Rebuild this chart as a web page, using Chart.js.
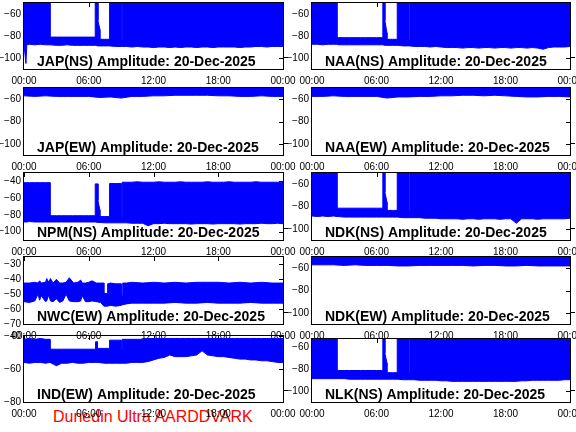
<!DOCTYPE html>
<html>
<head>
<meta charset="utf-8">
<script src="https://cdn.jsdelivr.net/npm/chart.js@4/dist/chart.umd.min.js"></script>
<style>
  body { margin: 0; background: #fff; width: 576px; height: 432px; position: relative; overflow: hidden; }
  canvas { position: absolute; }
  #footer { position: absolute; left: 53px; top: 409px; font: 16px "Liberation Sans", Arial, sans-serif; line-height: 16px; color: #ff0000; white-space: nowrap; }
</style>
</head>
<body>
<div id="footer">Dunedin Ultra AARDDVARK</div>
<script>
// x axis (hours of the day)
const timeTicks = [0, 6, 12, 18, 24];
const timeLabels = ['00:00', '06:00', '12:00', '18:00', '00:00'];

// y tick sets
const ticksStd = [-100, -80, -60];
const ticksNpm = [-100, -80, -60, -40];
const ticksNwc = [-70, -60, -50, -40, -30];
const ticksInd = [-80, -60, -40];

// NS time grids (left column / right column)
const leftNsHours = [0, 0.18, 0.26, 0.5, 1, 1.5, 2, 2.41, 2.41, 3, 3.5, 4, 4.5, 5, 5.5, 6, 6.6, 6.6, 6.85, 6.85, 7.03, 7.03, 7.5, 7.93, 7.93, 8.5, 9, 9, 9.1, 9.1, 9.5, 10, 10.5, 11, 11.5, 12, 12.5, 13, 13.5, 14, 14.5, 15, 15.5, 16, 16.5, 17, 17.5, 18, 18.5, 19, 19.5, 20, 20.5, 21, 21.5, 22, 22.5, 23, 23.5, 24];
const rightNsHours = [0, 0.5, 1, 1.5, 2, 2.32, 2.32, 2.5, 3, 3.5, 4, 4.5, 5, 5.5, 6, 6.59, 6.59, 6.78, 6.78, 6.97, 6.97, 7.5, 7.93, 7.93, 8.5, 9, 9, 9.1, 9.1, 9.5, 10, 10.5, 11, 11.5, 12, 12.5, 13, 13.5, 14, 14.5, 15, 15.5, 16, 16.5, 17, 17.5, 18, 18.5, 19, 19.5, 20, 20.5, 21, 21.5, 22, 22.5, 23, 23.5, 24];
const ewHours = [0, 1, 2, 3, 4, 5, 6, 7, 8, 9, 10, 11, 12, 13, 14, 15, 16, 17, 18, 19, 20, 21, 22, 23, 24];

// JAP(NS)
const japNsUpper = [-50, -50, -50, -50, -50, -50, -50, -50, -81, -81, -81, -81, -81, -81, -81, -81, -81, -50, -50, -66, -74, -83, -83, -83, -50, -50, -50, -83, -83, -50,
  -50, -50, -50, -50, -50, -50, -50, -50, -50, -50, -50, -50, -50, -50, -50, -50, -50, -50, -50, -50, -50, -50, -50, -50, -50, -50, -50, -50, -50, -50];
const japNsLower = [-88, -105, -88, -87.5, -88, -87.5, -88, -88, -88, -88.5, -88.5, -88, -88.5, -88.5, -88.5, -88.5, -88.5, -88.5, -89, -89,
  -89, -89, -89, -89, -89, -89.5, -89.5, -89.5, -89.5, -89.5, -89.5, -90, -89.5, -90, -90, -90.5, -90, -90, -90.5, -90,
  -90.5, -90, -90, -90.5, -90, -90, -90.5, -90, -90, -90, -90, -90.5, -90, -90, -89.5, -89.5, -90, -89.5, -89.5, -89.5];

// NPM(NS)
const npmNsUpper = [-41.5, -41.5, -41.5, -41.5, -41.5, -41.5, -41.5, -41.5, -81, -81, -81, -81, -81, -81, -81, -81, -81, -43, -43, -63, -74, -82, -82, -82, -42.5, -42.5, -42.5, -82, -82, -41,
  -41, -41, -40.5, -41, -41, -41, -40.5, -41, -41, -41, -40.5, -41, -41, -41, -41, -40.5, -41, -41, -41, -40.5, -41, -41, -41, -41, -40.5, -41, -41, -41, -41, -41];
const npmNsLower = [-88.5, -88.5, -88.5, -88, -88.5, -88.5, -88.5, -88.5, -88.5, -88.5, -88.5, -88.5, -88.5, -88.5, -88.5, -88.5, -88.5, -88.5, -89, -89,
  -89, -89, -89.5, -89.5, -89.5, -89.5, -89.5, -89.5, -89.5, -89.5, -89.5, -90, -90, -90, -93, -90.5, -90.5, -90, -90.5, -90.5,
  -90.5, -90.5, -91, -90.5, -90.5, -90.5, -91, -90.5, -90.5, -90.5, -90.5, -91, -90.5, -90.5, -90.5, -90, -90.5, -90.5, -90, -90.5];

// NAA(NS)
const naaNsUpper = [-50, -50, -50, -50, -50, -50, -81.5, -81.5, -81.5, -81.5, -81.5, -81.5, -81.5, -81.5, -81.5, -81.5, -50, -50, -66, -77, -83, -83, -83, -50, -50, -50, -83, -83, -50,
  -50, -50, -50, -50, -50, -50, -50, -50, -50, -50, -50, -50, -50, -50, -50, -50, -50, -50, -50, -50, -50, -50, -50, -50, -50, -50, -50, -50, -50, -50];
const naaNsLower = [-87.5, -87.5, -88, -87.5, -87.5, -87.5, -87.5, -88, -88, -88, -88, -88, -88, -88, -88, -88, -88, -88.5, -88.5, -88.5,
  -88.5, -88.5, -88.5, -88.5, -89, -89, -89, -89, -89, -89.5, -89.5, -89.5, -90, -89.5, -90, -90.5, -90.5, -90.5, -91, -90.5,
  -90.5, -91, -90.5, -90.5, -91, -90.5, -90.5, -91, -90.5, -90.5, -91, -90.5, -91, -92, -90.5, -90, -90, -90, -89.5];

// NDK(NS)
const ndkNsUpper = [-50, -50, -50, -50, -50, -50, -81.5, -81.5, -81.5, -81.5, -81.5, -81.5, -81.5, -81.5, -81.5, -81.5, -50, -50, -67, -76, -83.5, -83.5, -83.5, -50, -50, -50, -83.5, -83.5, -50,
  -50, -50, -50, -50, -50, -50, -50, -50, -50, -50, -50, -50, -50, -50, -50, -50, -50, -50, -50, -50, -50, -50, -50, -50, -50, -50, -50, -50, -50, -50];
const ndkNsLower = [-88.5, -89, -88.5, -89, -88.5, -89, -89, -89, -89.5, -89.5, -89.5, -89.5, -89.5, -89.5, -89.5, -89.5, -89.5, -89.5, -89.5, -89.5,
  -89.5, -89.5, -89.5, -89.5, -90, -90, -90, -90, -90, -90, -90, -90.5, -90.5, -90.5, -91, -91, -91, -91, -91.5, -91,
  -91, -91.5, -91, -91, -91, -91.5, -91, -91, -95, -91, -91, -91, -91.5, -91, -91, -91, -91, -91, -90.5];

// NLK(NS)
const nlkNsUpper = [-50, -50, -50, -50, -50, -50, -81, -81, -81, -81, -81, -81, -81, -81, -81, -81, -50, -50, -65, -74, -83, -83, -83, -50, -50, -50, -83, -83, -50,
  -50, -50, -50, -50, -50, -50, -50, -50, -50, -50, -50, -50, -50, -50, -50, -50, -50, -50, -50, -50, -50, -50, -50, -50, -50, -50, -50, -50, -50, -50];
const nlkNsLower = [-88.5, -88.5, -88.5, -88.5, -88.5, -88.5, -88.5, -88.5, -88.5, -89, -89, -89, -89, -89, -89, -89, -89, -89, -89, -89,
  -89, -89, -89, -89, -89.5, -89.5, -89.5, -89.5, -89.5, -89.5, -90, -90, -90, -90, -90.5, -90.5, -91, -91, -91, -91,
  -91, -91, -91, -91, -91, -91, -91, -91, -91, -90.5, -90.5, -90, -90, -90, -90, -90, -90, -89.5, -89.5];

// EW lower edges (upper edge is above the plot top)
const japEwLower = [-57, -57.5, -57, -57.5, -57.5, -57.5, -57.5, -58.5, -58, -59, -57.5, -57.5, -57, -57, -56.5, -56.5, -56.5, -56.5, -57, -57, -57.5, -57.5, -57, -57.5, -57.5];
const naaEwLower = [-57.5, -57.5, -57, -57.5, -57.5, -57.5, -57.5, -59, -58, -58, -57.5, -57.5, -57, -57, -56.5, -56.5, -57, -56.5, -57, -57.5, -58, -58, -57.5, -57.5, -58];
const ndkEwLower = [-57, -57, -57, -57.5, -57, -57.5, -57.5, -57.5, -58, -58, -57.5, -57.5, -57.5, -57.5, -57.5, -58, -57.5, -57.5, -58, -58, -57.5, -58, -58, -58, -58];

// NWC(EW)
const nwcHours = [0, 0.5, 1, 1.3, 1.45, 1.6, 2, 2.1, 2.3, 2.45, 2.7, 3, 3.3, 3.6, 3.9, 4.2, 4.6, 5, 5.25, 5.4, 5.7, 6, 6.3, 6.7, 7.1, 7.4, 7.4, 7.75, 7.75, 8, 8.5, 9, 9, 9.15, 9.15, 9.5, 10, 11, 12, 13, 14, 15, 16, 17, 18, 19, 20, 21, 22, 23, 24];
const nwcUpper = [-42.5, -42.5, -42, -42.5, -41, -42.5, -42, -39.5, -42, -39.5, -42.5, -40, -42.5, -42.5, -42, -39, -42.5, -42, -40.5, -42.5,
  -42.5, -42, -41, -42.5, -42.5, -42.5, -49.5, -49.5, -43, -42.5, -43, -43, -51, -51, -42.5, -42.5, -42, -42.5, -42, -42.5,
  -42, -42.5, -42, -42, -42, -42.5, -42, -42.5, -42, -42.5, -42.5];
const nwcLower = [-55, -55.5, -54.5, -50, -54, -51, -55, -54.5, -50.5, -54.5, -55, -53, -55.5, -54.5, -50, -54.5, -55, -55, -54.5, -51,
  -55, -55, -54.5, -55, -55.5, -58, -58, -58, -58, -57.5, -58, -57.5, -57.5, -57, -57, -56.5, -56, -56, -56, -56,
  -55.5, -56, -56, -55.5, -56, -56, -56, -55.5, -56, -56, -56];

// IND(EW)
const indHours = [0, 0.5, 1, 1.5, 2, 2.41, 2.41, 3, 3.5, 4, 4.5, 5, 5.5, 6, 6.63, 6.63, 6.8, 6.8, 7.5, 7.93, 7.93, 8.5, 9, 9, 9.1, 9.1, 9.5, 10, 10.5, 11, 11.5, 12, 12.5, 13, 13.5, 14, 14.5, 15, 15.5, 16, 16.5, 17, 17.5, 18, 18.5, 19, 19.5, 20, 20.5, 21, 21.5, 22, 22.5, 23, 23.5, 24];
const indUpper = [-42, -41.5, -42, -41.5, -42, -42, -48, -48, -48, -48, -48, -48, -48, -48, -48, -43.5, -43.5, -47.5, -47.5, -47.5, -42.5, -42.5, -42.5, -48.5, -48.5, -42,
  -42, -42, -42, -42, -41.5, -41.5, -41.5, -41.5, -41.5, -41.5, -41.5, -41.5, -41.5, -41.5, -41.5, -41.5, -41.5, -41.5, -41.5, -41.5, -41.5, -41.5, -41.5, -41.5, -41.5, -41.5, -41.5, -41.5, -41.5, -41.5];
const indLower = [-56, -56.5, -56, -56, -56.5, -56, -56, -58, -56.5, -56.5, -56, -56.5, -56.5, -56, -56, -56, -56, -56, -56.5, -56.5,
  -56.5, -56.5, -56.5, -56.5, -56.5, -56.5, -56.5, -56, -56, -56, -55.5, -54.5, -53.5, -53, -51.5, -52.5, -52.5, -52.5, -52, -51.5,
  -49, -51.5, -52, -52.5, -52.5, -53, -53.5, -54, -54, -54.5, -54.5, -55, -55, -55.5, -56, -56];

const BLUE = '#0000ff';
const FONT = '"Liberation Sans", Arial, sans-serif';

const panels = [
    { label: 'JAP(NS) Amplitude: 20-Dec-2025', col: 0, top: 3, bottom: 69, hours: leftNsHours, upper: japNsUpper, lower: japNsLower, yMin: -110, yMax: -50, yTicks: ticksStd },
    { label: 'NAA(NS) Amplitude: 20-Dec-2025', col: 1, top: 3, bottom: 69, hours: rightNsHours, upper: naaNsUpper, lower: naaNsLower, yMin: -110, yMax: -50, yTicks: ticksStd },
    { label: 'JAP(EW) Amplitude: 20-Dec-2025', col: 0, top: 88, bottom: 155, hours: ewHours, lower: japEwLower, yMin: -110, yMax: -50, yTicks: ticksStd },
    { label: 'NAA(EW) Amplitude: 20-Dec-2025', col: 1, top: 88, bottom: 155, hours: ewHours, lower: naaEwLower, yMin: -110, yMax: -50, yTicks: ticksStd },
    { label: 'NPM(NS) Amplitude: 20-Dec-2025', col: 0, top: 173, bottom: 240, hours: leftNsHours, upper: npmNsUpper, lower: npmNsLower, yMin: -110, yMax: -30, yTicks: ticksNpm },
    { label: 'NDK(NS) Amplitude: 20-Dec-2025', col: 1, top: 173, bottom: 240, hours: rightNsHours, upper: ndkNsUpper, lower: ndkNsLower, yMin: -110, yMax: -50, yTicks: ticksStd },
    { label: 'NWC(EW) Amplitude: 20-Dec-2025', col: 0, top: 257, bottom: 324, hours: nwcHours, upper: nwcUpper, lower: nwcLower, yMin: -70, yMax: -25, yTicks: ticksNwc },
    { label: 'NDK(EW) Amplitude: 20-Dec-2025', col: 1, top: 257, bottom: 324, hours: ewHours, lower: ndkEwLower, yMin: -110, yMax: -50, yTicks: ticksStd },
    { label: 'IND(EW) Amplitude: 20-Dec-2025', col: 0, top: 336, bottom: 402, hours: indHours, upper: indUpper, lower: indLower, yMin: -80, yMax: -40, yTicks: ticksInd },
    { label: 'NLK(NS) Amplitude: 20-Dec-2025', col: 1, top: 339, bottom: 402, hours: rightNsHours, upper: nlkNsUpper, lower: nlkNsLower, yMin: -110, yMax: -52, yTicks: ticksStd },
];

// frame, inner ticks and the in-plot title
function panelDecor(p) {
    return {
        id: 'panelDecor',
        beforeDatasetsDraw(chart) {
            const { ctx, chartArea: a, scales } = chart;
            ctx.save();
            ctx.strokeStyle = '#000';
            ctx.lineWidth = 1;
            ctx.beginPath();
            scales.x.ticks.forEach(t => {
                const x = Math.round(scales.x.getPixelForValue(t.value)) + 0.5;
                ctx.moveTo(x, a.top);
                ctx.lineTo(x, a.top + 4);
            });
            scales.y.ticks.forEach(t => {
                const y = Math.round(scales.y.getPixelForValue(t.value)) + 0.5;
                ctx.moveTo(a.right - 4, y);
                ctx.lineTo(a.right, y);
            });
            ctx.stroke();
            ctx.restore();
        },
        afterDatasetsDraw(chart) {
            const { ctx, chartArea: a } = chart;
            ctx.save();
            ctx.strokeStyle = '#000';
            ctx.lineWidth = 1;
            ctx.strokeRect(a.left - 0.5, a.top - 0.5, a.right - a.left + 1, a.bottom - a.top + 1);
            // little outer mark on the right edge
            ctx.beginPath();
            ctx.moveTo(a.right, a.bottom - 11.5);
            ctx.lineTo(a.right + 5, a.bottom - 11.5);
            ctx.stroke();
            ctx.fillStyle = '#000';
            ctx.font = 'bold 14px ' + FONT;
            ctx.textAlign = 'left';
            ctx.textBaseline = 'alphabetic';
            ctx.fillText(p.label, a.left + 13, a.bottom - 3);
            ctx.restore();
        }
    };
}

function makePanel(p) {
    // keep every canvas inside the page: the space above the plot is at most 10px
    const padTop = Math.min(10, p.top);
    const axisH = 22;
    const left = p.col === 0 ? 0 : 288;
    const width = p.col === 0 ? 300 : 288;
    const padRight = p.col === 0 ? 17 : 6;
    const height = (p.bottom - p.top) + padTop + axisH;

    const canvas = document.createElement('canvas');
    canvas.width = width;
    canvas.height = height;
    canvas.style.left = left + 'px';
    canvas.style.top = (p.top - padTop) + 'px';
    canvas.style.width = width + 'px';
    canvas.style.height = height + 'px';
    document.body.appendChild(canvas);

    const lowerPts = p.hours.map((h, i) => ({ x: h, y: p.lower[i] }));
    let datasets;
    if (p.upper) {
        const upperPts = p.hours.map((h, i) => ({ x: h, y: p.upper[i] }));
        datasets = [
            { data: upperPts, borderColor: BLUE, borderWidth: 1, pointRadius: 0, fill: false },
            { data: lowerPts, borderColor: BLUE, borderWidth: 1, pointRadius: 0, fill: '-1', backgroundColor: BLUE }
        ];
    } else {
        datasets = [
            { data: lowerPts, borderColor: BLUE, borderWidth: 1, pointRadius: 0, fill: 'end', backgroundColor: BLUE }
        ];
    }

    new Chart(canvas, {
        type: 'line',
        data: { datasets },
        options: {
            responsive: false,
            animation: false,
            devicePixelRatio: 1,
            layout: { padding: { top: padTop, right: padRight, left: 0, bottom: 0 } },
            elements: { line: { tension: 0 } },
            plugins: { legend: { display: false }, tooltip: { enabled: false } },
            scales: {
                x: {
                    type: 'linear', min: 0, max: 24,
                    grid: { display: false, drawTicks: false },
                    border: { display: false },
                    afterBuildTicks: s => { s.ticks = timeTicks.map(v => ({ value: v })); },
                    afterFit: s => { s.height = axisH; s.paddingLeft = 0; s.paddingRight = 0; },
                    ticks: { autoSkip: false, maxRotation: 0, padding: 6, color: '#000', font: { family: FONT, size: 10 },
                             callback: (v, i) => timeLabels[i] }
                },
                y: {
                    type: 'linear', min: p.yMin, max: p.yMax,
                    grid: { display: false, drawTicks: false },
                    border: { display: false },
                    afterBuildTicks: s => { s.ticks = p.yTicks.map(v => ({ value: v })); },
                    afterFit: s => { s.width = 24; s.paddingTop = 0; s.paddingBottom = 0; },
                    ticks: { autoSkip: false, padding: 3, color: '#000', font: { family: FONT, size: 10 },
                             callback: v => String(v).replace('-', '\u2212') }
                }
            }
        },
        plugins: [panelDecor(p)]
    });
}

panels.forEach(makePanel);
</script>
</body>
</html>
